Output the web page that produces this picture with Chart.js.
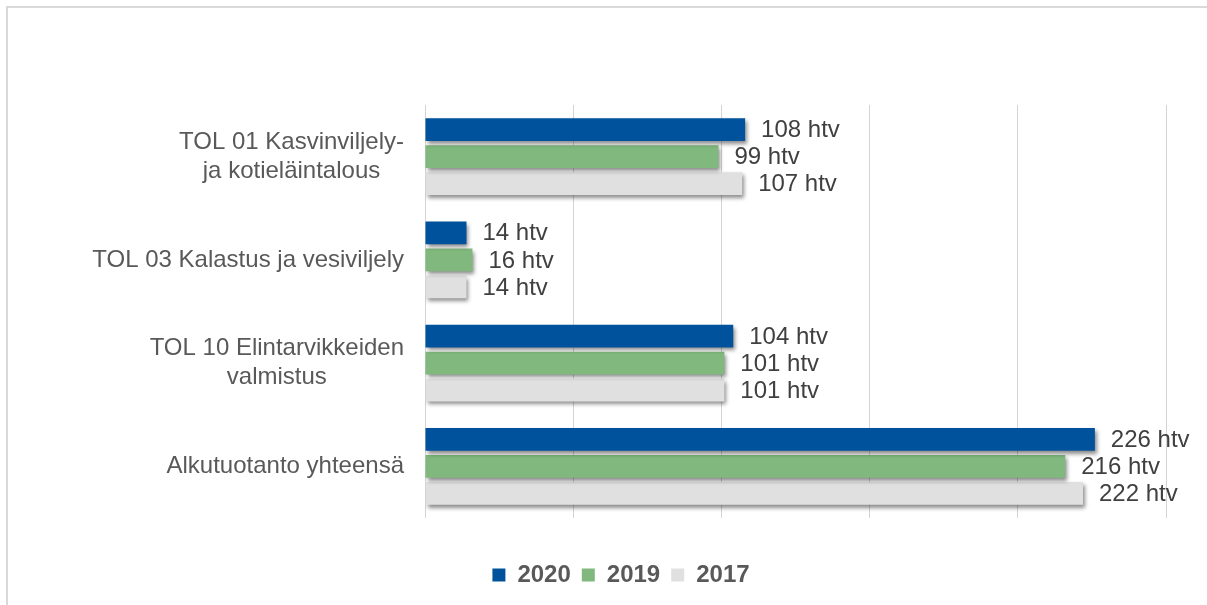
<!DOCTYPE html>
<html>
<head>
<meta charset="utf-8">
<script src="https://cdn.jsdelivr.net/npm/chart.js@4"></script>
<style>
  html, body { margin: 0; padding: 0; background: #ffffff; }
  canvas { display: block; }
</style>
</head>
<body>
<canvas id="c" width="1207" height="605"></canvas>
<script>
const categories = [
  ["TOL 01 Kasvinviljely-", "ja kotieläintalous"],
  ["TOL 03 Kalastus ja vesiviljely"],
  ["TOL 10 Elintarvikkeiden", "valmistus"],
  ["Alkutuotanto yhteensä"]
];
const seriesNames = ["2020", "2019", "2017"];
const values2020 = [108, 14, 104, 226];
const values2019 = [99, 16, 101, 216];
const values2017 = [107, 14, 101, 222];
const xTicks = [0, 50, 100, 150, 200, 250];
const unit = " htv";

const FONT = "'Liberation Sans', Arial, sans-serif";

const framePlugin = {
  id: 'frame',
  beforeDraw(chart) {
    const ctx = chart.ctx;
    ctx.save();
    ctx.fillStyle = '#ffffff';
    ctx.fillRect(0, 0, chart.width, chart.height);
    ctx.strokeStyle = '#d9d9d9';
    ctx.lineWidth = 2;
    ctx.strokeRect(7, 7, chart.width + 20, chart.height + 20);
    ctx.restore();
  }
};

const shadowLabelPlugin = {
  id: 'shadowLabels',
  beforeDatasetsDraw(chart) {
    const ctx = chart.ctx;
    ctx.save();
    ctx.shadowColor = 'rgba(0,0,0,0.45)';
    ctx.shadowBlur = 4;
    ctx.shadowOffsetX = 2;
    ctx.shadowOffsetY = 3;
  },
  afterDatasetsDraw(chart) {
    const ctx = chart.ctx;
    ctx.restore();
    ctx.save();
    ctx.font = "24px " + FONT;
    ctx.fillStyle = '#404040';
    ctx.textAlign = 'left';
    ctx.textBaseline = 'middle';
    chart.data.datasets.forEach((ds, di) => {
      const meta = chart.getDatasetMeta(di);
      meta.data.forEach((bar, i) => {
        ctx.fillText(ds.data[i] + unit, bar.x + 16, bar.y + 1);
      });
    });
    const yScale = chart.scales.y;
    ctx.fillStyle = '#595959';
    ctx.textAlign = 'center';
    const rightEdge = 404;
    const lineH = 29;
    categories.forEach((lines, i) => {
      const cy = yScale.getPixelForValue(i);
      const w = Math.max(...lines.map(l => ctx.measureText(l).width));
      const cx = rightEdge - w / 2;
      const y0 = cy - (lines.length - 1) * lineH / 2;
      lines.forEach((l, k) => ctx.fillText(l, cx, y0 + k * lineH));
    });
    ctx.restore();
  }
};

new Chart(document.getElementById('c'), {
  type: 'bar',
  data: {
    labels: categories,
    datasets: [
      { label: seriesNames[0], data: values2020, backgroundColor: '#00529c' },
      { label: seriesNames[1], data: values2019, backgroundColor: '#80b87d' },
      { label: seriesNames[2], data: values2017, backgroundColor: '#e0e0e0' }
    ]
  },
  options: {
    indexAxis: 'y',
    responsive: false,
    devicePixelRatio: 1,
    animation: false,
    datasets: { bar: { categoryPercentage: 0.785, barPercentage: 0.835 } },
    layout: { padding: { left: 76, right: 41, top: 105, bottom: 8 } },
    scales: {
      x: {
        min: xTicks[0],
        max: xTicks[xTicks.length - 1],
        afterBuildTicks(s) { s.ticks = xTicks.map(v => ({ value: v })); },
        ticks: { display: false },
        grid: { color: '#d4d4d4', lineWidth: 1, drawTicks: false },
        border: { display: false },
        afterFit(s) { s.height = 34; }
      },
      y: {
        ticks: { display: false },
        grid: { display: false, drawTicks: false },
        border: { display: false },
        afterFit(s) { s.width = 349; }
      }
    },
    plugins: {
      tooltip: { enabled: false },
      legend: {
        position: 'bottom',
        labels: {
          boxWidth: 13,
          boxHeight: 13,
          padding: 11,
          color: '#595959',
          font: { family: FONT, size: 24, weight: 'bold' }
        }
      }
    }
  },
  plugins: [framePlugin, shadowLabelPlugin]
});
</script>
</body>
</html>
